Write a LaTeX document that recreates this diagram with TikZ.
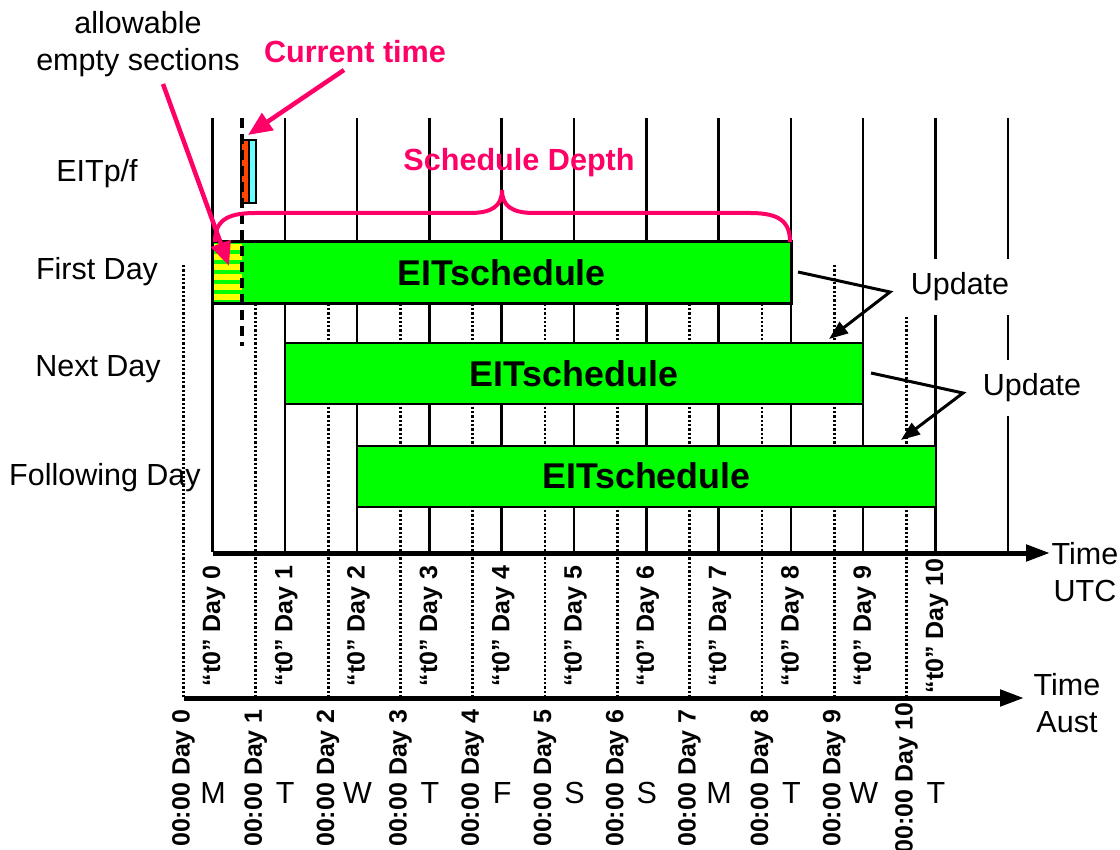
\documentclass[tikz,border=0pt]{standalone}
\usepackage{fontspec}
\setmainfont{Liberation Sans}
\usetikzlibrary{arrows.meta}
\definecolor{pinkc}{RGB}{255,0,102}
\definecolor{boxgreen}{RGB}{0,255,0}
\definecolor{stripey}{RGB}{255,255,0}
\definecolor{eorange}{RGB}{255,69,0}
\definecolor{ecyan}{RGB}{102,255,255}
\begin{document}
\begin{tikzpicture}[x=1pt,y=-1pt,
  lbl/.style={font=\fontsize{30.5}{37}\selectfont, inner sep=0pt, align=center},
  boldlbl/.style={font=\fontsize{30.6}{37}\selectfont\bfseries, inner sep=0pt, text=pinkc},
  sched/.style={draw=black, line width=2pt, fill=boxgreen, inner sep=0pt,
    minimum width=578.4pt, minimum height=61pt,
    font=\fontsize{35.8}{42}\selectfont\bfseries},
  gridsolid/.style={line width=2.5pt},
  griddot/.style={line width=2.8pt, dash pattern=on 2.3pt off 2pt},
  axisline/.style={line width=5pt, -{Triangle[length=24pt,width=16pt]}},
  pinkarrow/.style={draw=pinkc, line width=4.5pt, -{Triangle[length=24pt,width=20pt]}},
  updarrow/.style={line width=3pt, -{Triangle[length=19pt,width=14pt]}},
  updlbl/.style={lbl, fill=white, minimum width=112pt, minimum height=56pt},
  utclbl/.style={rotate=90, font=\fontsize{25}{30}\selectfont\bfseries, inner sep=0pt},
  dowlbl/.style={font=\fontsize{30.5}{36}\selectfont, inner sep=0pt, anchor=base},
]
\useasboundingbox (0,0) rectangle (1120,850);

% solid UTC day lines
\foreach \k in {0,...,11}
  \draw[gridsolid] ({212.5+72.3*\k},118) -- ({212.5+72.3*\k},552);
% dotted Aust day lines
\foreach \k in {0,...,10}
  \draw[griddot] ({183.5+72.3*\k},265) -- ({183.5+72.3*\k},698);

% axes
\coordinate (utcstart) at (212.5,553);
\coordinate (utcend) at (1050,553);
\coordinate (auststart) at (183.5,698);
\coordinate (austend) at (1024,698);
\draw[axisline] (utcstart) -- (utcend);
\draw[axisline] (auststart) -- (austend);
\node[lbl] (tutc) at (1085,572) {Time\\UTC};
\node[lbl] (taust) at (1067,703) {Time\\Aust};

% schedule boxes
\node[sched] (s1) at (501.7,272.5) {};
\foreach \i in {0,...,5}
  \fill[stripey] (213.5,{244+10*\i}) rectangle (242,{250+10*\i});
\draw[line width=2pt] (s1.north west) rectangle (s1.south east);
\node[font=\fontsize{35.8}{42}\selectfont\bfseries, inner sep=0pt] (s1t) at (s1.center) {EITschedule};
\node[sched] (s2) at (574,374) {EITschedule};
\node[sched] (s3) at (646.3,476) {EITschedule};

% EIT p/f box
\draw[line width=1.5pt, fill=eorange] (241,140) rectangle (249,203);
\draw[line width=1.5pt, fill=ecyan] (249,140) rectangle (256,203);
\coordinate (eitp) at (249,140);

% current time dashed line
\draw[line width=4pt, dash pattern=on 10pt off 6pt] (242,118) -- (242,346);

% schedule depth brace
\draw[pinkc, line width=4pt] (215,242) .. controls (215,222) and (225,213) .. (255,213)
  -- (470,213) .. controls (492,213) and (502,206) .. (502,190)
  .. controls (502,206) and (512,213) .. (534,213)
  -- (750,213) .. controls (780,213) and (790,222) .. (790,242);
\node[boldlbl] (sd) at (519,163) {Schedule Depth};

% left labels
\node[lbl] (leit) at (97,174) {EITp/f};
\node[lbl] (lfirst) at (97,272) {First Day};
\node[lbl] (lnext) at (98,369) {Next Day};
\node[lbl] (lfoll) at (105,478) {Following Day};

% top annotations
\node[lbl] (allow) at (138,44) {allowable\\empty sections};
\node[boldlbl] (ct) at (355,52) {Current time};
\coordinate (ctfrom) at (344,70);
\coordinate (cttip) at (248,135);
\draw[pinkarrow] (ctfrom) -- (cttip);
\coordinate (alfrom) at (163,84);
\coordinate (altip) at (229,266);
\draw[pinkarrow] (alfrom) -- (altip);

% update labels and arrows
\node[updlbl] (up1) at (960,287) {Update};
\node[updlbl] (up2) at (1032,388) {Update};
\coordinate (u1a) at (798,272);
\coordinate (u1v) at (890,292);
\coordinate (u1t) at (829,339);
\draw[updarrow] (u1a) -- (u1v) -- (u1t);
\coordinate (u2a) at (871,373);
\coordinate (u2v) at (963,393);
\coordinate (u2t) at (901,440);
\draw[updarrow] (u2a) -- (u2v) -- (u2t);

% rotated UTC labels
\foreach \k in {0,...,10}
  \node[utclbl] (utc\k) at ({214+72.3*\k},626) {“t0” Day \k};
% rotated Aust labels
\foreach \k in {0,...,10}
  \node[utclbl] (aus\k) at ({183.5+72.3*\k},778) {00:00 Day \k};
% day of week letters
\foreach \d [count=\k from 0] in {M,T,W,T,F,S,S,M,T,W,T}
  \node[dowlbl] (dow\k) at ({213+72.3*\k},803) {\d};
\end{tikzpicture}
\end{document}
